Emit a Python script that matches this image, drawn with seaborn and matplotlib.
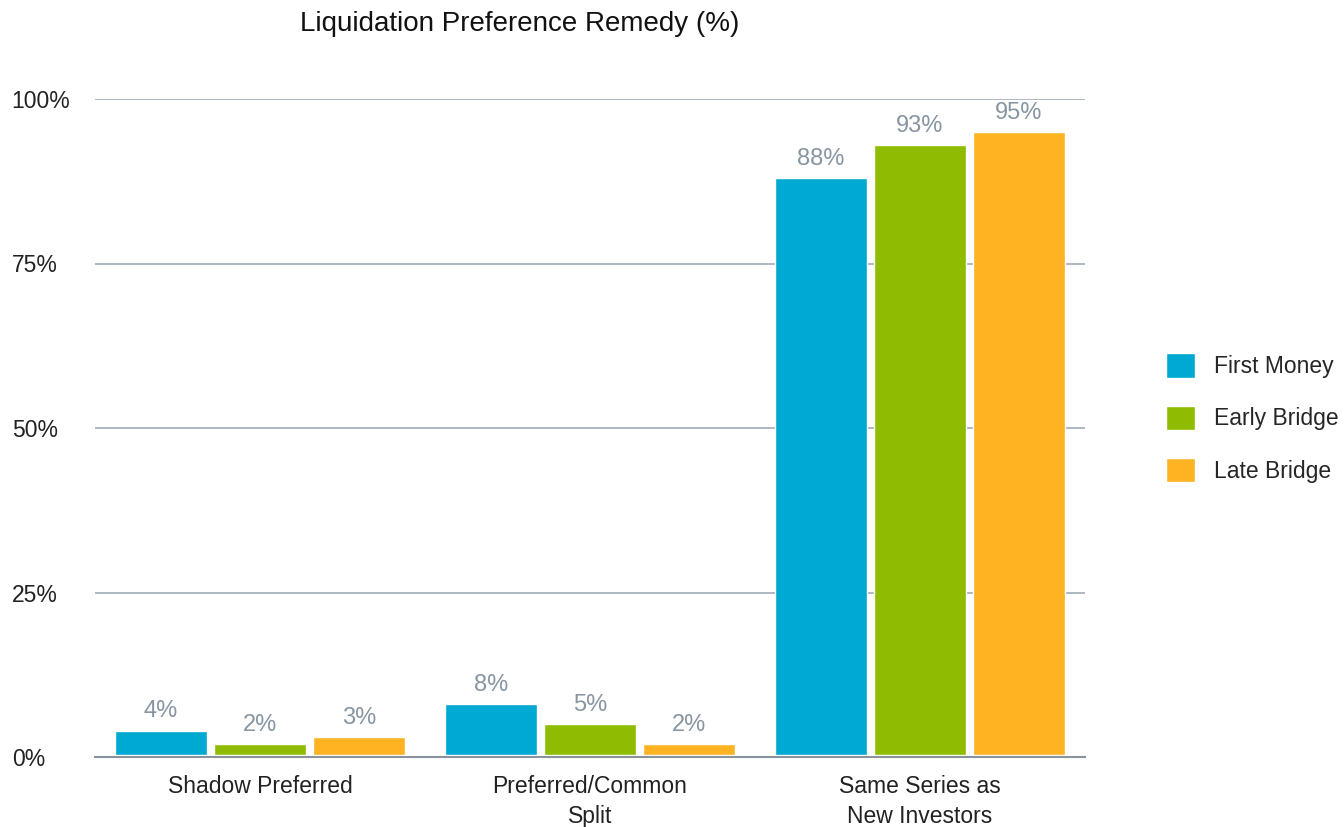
import matplotlib
matplotlib.use("Agg")
import matplotlib.pyplot as plt
import seaborn as sns
import pandas as pd

categories = ["Shadow Preferred", "Preferred/Common\nSplit", "Same Series as\nNew Investors"]
series = ["First Money", "Early Bridge", "Late Bridge"]
first_money = [4, 8, 88]
early_bridge = [2, 5, 93]
late_bridge = [3, 2, 95]
colors = ["#00a9d1", "#8fbc00", "#fdb322"]
yticks = [0, 25, 50, 75, 100]
ytick_labels = ["0%", "25%", "50%", "75%", "100%"]

rows = []
for s, vals in zip(series, [first_money, early_bridge, late_bridge]):
    for c, v in zip(categories, vals):
        rows.append({"category": c, "series": s, "value": v})
df = pd.DataFrame(rows)

sns.set_style("white")
plt.rcParams["font.family"] = ["Liberation Sans", "DejaVu Sans"]

fig = plt.figure(figsize=(13.44, 8.27), dpi=100)
ax = fig.add_axes([95/1344, 1 - 757/827, 990/1344, 658/827])

sns.barplot(data=df, x="category", y="value", hue="series", palette=colors,
            order=categories, hue_order=series, width=0.9, gap=0.07,
            saturation=1, ax=ax, errorbar=None)

ax.set_xlim(-0.5, 2.5)
ax.set_ylim(0, 100)
ax.set_yticks(yticks)
ax.set_yticklabels(ytick_labels, fontsize=16.5, color="#222222")
ax.tick_params(axis="x", labelsize=16.5, colors="#222222", length=0, pad=13)
ax.tick_params(axis="y", length=0, pad=60)
for lab in ax.get_yticklabels():
    lab.set_horizontalalignment("left")
for lab in ax.get_xticklabels():
    lab.set_linespacing(1.38)
ax.set_xlabel("")
ax.set_ylabel("")
ax.yaxis.grid(True, color="#9eabb8", linewidth=1.2)
ax.set_axisbelow(True)
for sp in ["top", "right", "left"]:
    ax.spines[sp].set_visible(False)
ax.spines["bottom"].set_color("#8a939c")
ax.spines["bottom"].set_linewidth(1.5)

for cont in ax.containers:
    for bar in cont:
        h = bar.get_height()
        bar.set_y(0.35)
        bar.set_height(h - 0.35)
    ax.bar_label(cont, labels=[f"{int(round(b.get_height() + 0.35))}%" for b in cont],
                 padding=6, fontsize=17, color="#8795a3")

ax.set_title("Liquidation Preference Remedy (%)", fontsize=20, color="#111111",
             x=(520 - 95) / 990, y=1 + (99 - 24) / 658, pad=0, va="center")

handles, labels = ax.get_legend_handles_labels()
ax.legend(handles, labels, loc="center left",
          bbox_to_anchor=((1166 - 95) / 990, 1 - (418 - 99) / 658),
          frameon=False, fontsize=16.5, handlelength=1.25, handleheight=1.25,
          labelspacing=1.2, handletextpad=0.85, borderaxespad=0, borderpad=0)

fig.savefig("out.png", dpi=100)
